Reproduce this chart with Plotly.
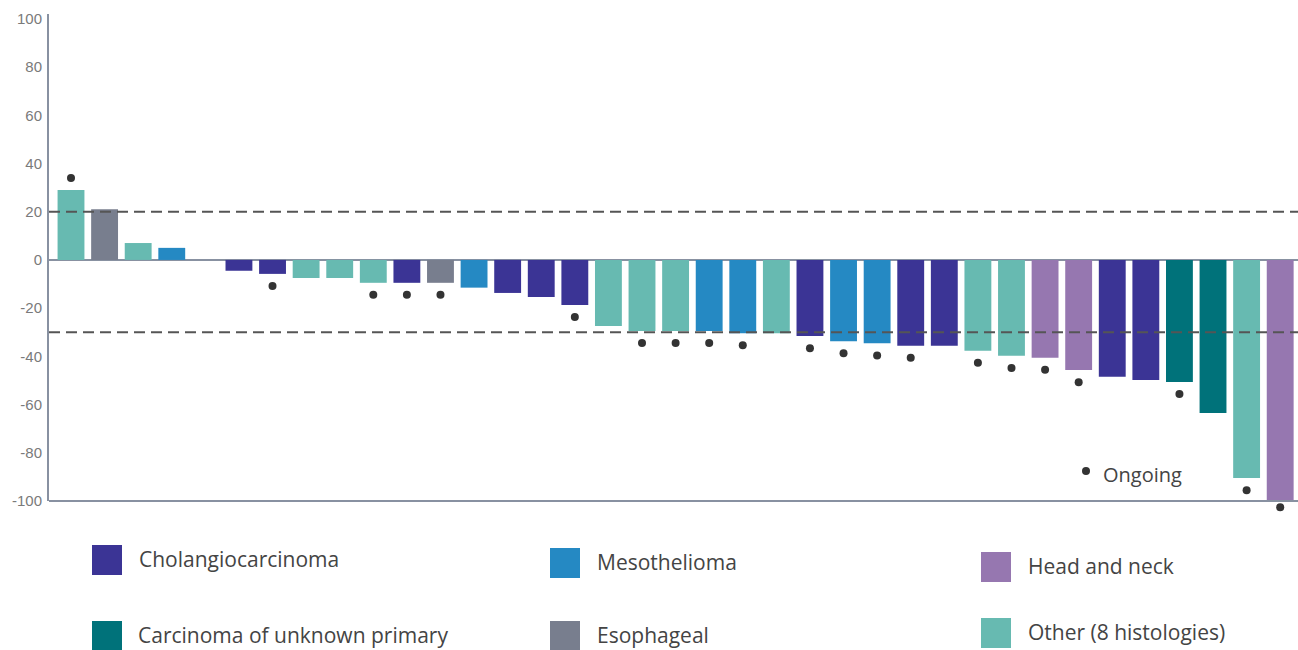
import plotly.graph_objects as go

# ---------------- data ----------------
categories = [
    "Other (8 histologies)", "Esophageal", "Other (8 histologies)", "Mesothelioma", "Other (8 histologies)",
    "Cholangiocarcinoma", "Cholangiocarcinoma", "Other (8 histologies)", "Other (8 histologies)", "Other (8 histologies)",
    "Cholangiocarcinoma", "Esophageal", "Mesothelioma", "Cholangiocarcinoma", "Cholangiocarcinoma",
    "Cholangiocarcinoma", "Other (8 histologies)", "Other (8 histologies)", "Other (8 histologies)", "Mesothelioma",
    "Mesothelioma", "Other (8 histologies)", "Cholangiocarcinoma", "Mesothelioma", "Mesothelioma",
    "Cholangiocarcinoma", "Cholangiocarcinoma", "Other (8 histologies)", "Other (8 histologies)", "Head and neck",
    "Head and neck", "Cholangiocarcinoma", "Cholangiocarcinoma", "Carcinoma of unknown primary", "Carcinoma of unknown primary",
    "Other (8 histologies)", "Head and neck",
]
values = [
    29, 21, 7, 5, 0,
    -4.5, -5.8, -7.5, -7.5, -9.5,
    -9.5, -9.5, -11.5, -13.7, -15.4,
    -18.7, -27.4, -29.5, -29.5, -29.5,
    -30.4, -30.4, -31.6, -33.7, -34.6,
    -35.6, -35.6, -37.7, -39.8, -40.6,
    -45.7, -48.5, -49.8, -50.6, -63.5,
    -90.5, -99.6,
]
ongoing = [
    1, 0, 0, 0, 0,
    0, 1, 0, 0, 1,
    1, 1, 0, 0, 0,
    1, 0, 1, 1, 1,
    1, 0, 1, 1, 1,
    1, 0, 1, 1, 1,
    1, 0, 0, 1, 0,
    1, 1,
]
legend_names = [
    "Cholangiocarcinoma", "Mesothelioma", "Head and neck",
    "Carcinoma of unknown primary", "Esophageal", "Other (8 histologies)",
]
legend_colors = ["#3b3495", "#2589c3", "#9677b0", "#00727a", "#787e8e", "#67bab1"]
reference_lines = [20, -30]
y_ticks = [-100, -80, -60, -40, -20, 0, 20, 40, 60, 80, 100]
y_tick_labels = [str(v) for v in y_ticks]
ongoing_label = "Ongoing"

# ---------------- styling ----------------
W, H = 1298, 650
L, R, T, B = 49, 0, 14, 135
Y_TOP, Y_AXIS_MIN = 102, -100
PX_PER_UNIT = (501 - 14) / (Y_TOP - Y_AXIS_MIN)
Y_LOW = Y_AXIS_MIN - ((H - B) - 501) / PX_PER_UNIT
AXIS_COLOR = "#8891a1"
TEXT_COLOR = "#444444"
TEXT_FONT = "Open Sans"
DOT_OFFSET = 5
DOT_OFFSET_AT_FLOOR = 3

color_of = dict(zip(legend_names, legend_colors))
xs = list(range(len(values)))

fig = go.Figure()
for name in legend_names:
    idx = [i for i, c in enumerate(categories) if c == name]
    fig.add_trace(go.Bar(
        x=[xs[i] for i in idx], y=[values[i] for i in idx],
        name=name, marker=dict(color=color_of[name], line=dict(width=0)),
        width=0.8, showlegend=False,
    ))


def dot_pos(v):
    if v > 0:
        return v + DOT_OFFSET
    if v - DOT_OFFSET < Y_AXIS_MIN:
        return v - DOT_OFFSET_AT_FLOOR
    return v - DOT_OFFSET


dot_x = [xs[i] for i in range(len(values)) if ongoing[i]]
dot_y = [dot_pos(values[i]) for i in range(len(values)) if ongoing[i]]
fig.add_trace(go.Scatter(
    x=dot_x, y=dot_y, mode="markers", cliponaxis=False, showlegend=False,
    marker=dict(color="#333333", size=8),
))

plot_w = W - L - R
plot_h = H - T - B


def px(xp):
    return (xp - L) / plot_w


def py(yp):
    return (H - B - yp) / plot_h


shapes = []
shapes.append(dict(type="line", xref="paper", yref="y", x0=0, x1=1, y0=Y_AXIS_MIN, y1=Y_AXIS_MIN,
                   line=dict(color=AXIS_COLOR, width=2), layer="above"))
shapes.append(dict(type="line", xref="paper", yref="y", x0=-0.0008, x1=-0.0008, y0=Y_AXIS_MIN, y1=Y_TOP,
                   line=dict(color=AXIS_COLOR, width=2), layer="above"))
for yv in reference_lines:
    shapes.append(dict(type="line", xref="paper", yref="y", x0=0, x1=1, y0=yv, y1=yv,
                       line=dict(color="#555555", width=2, dash="11px,6px"), layer="above"))

# custom legend (3 columns x 2 rows)
sq_left = [92, 550, 981, 92, 550, 981]
txt_left = [139, 597, 1028, 138, 597, 1028]
row_center = [560, 563, 567, 636, 636, 633]
annotations = []
for i, name in enumerate(legend_names):
    shapes.append(dict(type="rect", xref="paper", yref="paper",
                       xsizemode="pixel", ysizemode="pixel",
                       xanchor=px(sq_left[i]), yanchor=py(row_center[i]),
                       x0=0, x1=30, y0=-15, y1=15,
                       fillcolor=legend_colors[i], line=dict(width=0)))
    annotations.append(dict(xref="paper", yref="paper", x=px(txt_left[i] - 2), y=py(row_center[i] - 1),
                            xanchor="left", yanchor="middle", showarrow=False, text=name,
                            font=dict(family=TEXT_FONT, size=21, color=TEXT_COLOR)))

# "Ongoing" key
shapes.append(dict(type="circle", xref="paper", yref="paper",
                   xsizemode="pixel", ysizemode="pixel",
                   xanchor=px(1086), yanchor=py(471), x0=-4, x1=4, y0=-4, y1=4,
                   fillcolor="#333333", line=dict(width=0)))
annotations.append(dict(xref="paper", yref="paper", x=px(1101), y=py(474),
                        xanchor="left", yanchor="middle", showarrow=False, text=ongoing_label,
                        font=dict(family=TEXT_FONT, size=20, color=TEXT_COLOR)))

fig.update_layout(
    width=W, height=H,
    margin=dict(l=L, r=R, t=T, b=B, pad=0),
    plot_bgcolor="white", paper_bgcolor="white",
    bargap=0.2,
    shapes=shapes, annotations=annotations,
    xaxis=dict(range=[-0.655, len(values) - 0.47], showticklabels=False, showgrid=False,
               zeroline=False, showline=False, ticks=""),
    yaxis=dict(range=[Y_LOW, Y_TOP], tickvals=y_ticks, ticktext=y_tick_labels, showgrid=False,
               zeroline=True, zerolinecolor=AXIS_COLOR, zerolinewidth=2,
               showline=False, ticks="",
               ticklabelstandoff=6,
               tickfont=dict(family="Liberation Sans", size=15, color="#7a7a7a")),
)

fig.write_html("out.html")
